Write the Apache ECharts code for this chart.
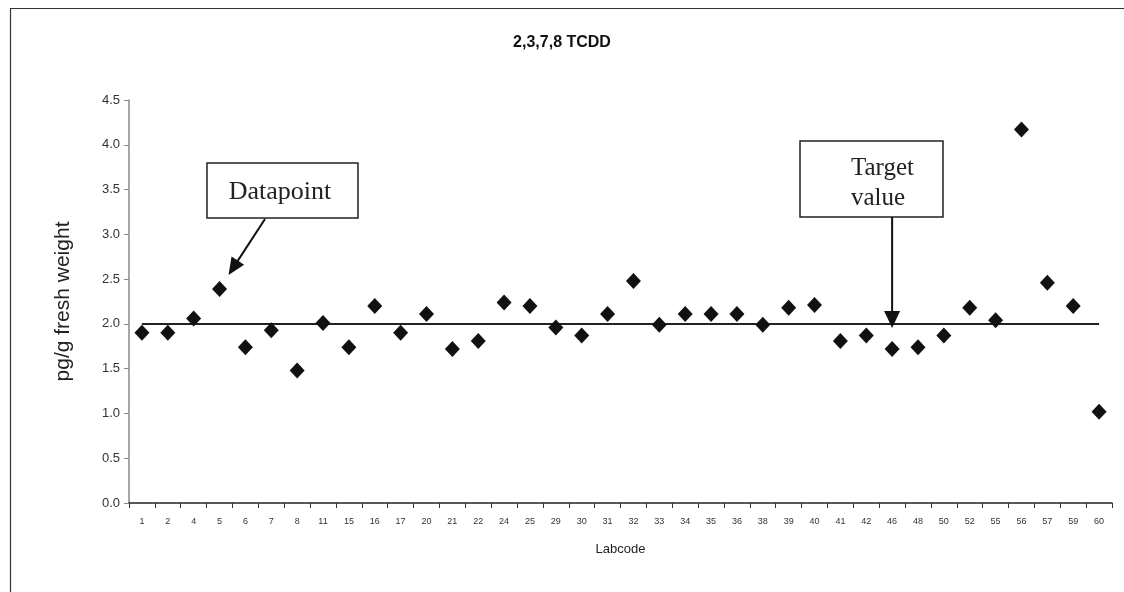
<!DOCTYPE html>
<html><head><meta charset="utf-8">
<script src="https://cdn.jsdelivr.net/npm/echarts@6/dist/echarts.min.js"></script>
<style>html,body{margin:0;padding:0;background:#fff}#c{width:1124px;height:592px}</style>
</head><body><div id="c"></div>
<script>
const labcodes = ['1','2','4','5','6','7','8','11','15','16','17','20','21','22','24','25','29','30','31','32','33','34','35','36','38','39','40','41','42','46','48','50','52','55','56','57','59','60'];
const values = [1.90,1.90,2.06,2.39,1.74,1.93,1.48,2.01,1.74,2.20,1.90,2.11,1.72,1.81,2.24,2.20,1.96,1.87,2.11,2.48,1.99,2.11,2.11,2.11,1.99,2.18,2.21,1.81,1.87,1.72,1.74,1.87,2.18,2.04,4.17,2.46,2.20,1.02];
const targetValue = 2.0;
const yTicks = [0,0.5,1,1.5,2,2.5,3,3.5,4,4.5];

const chart = echarts.init(document.getElementById('c'));
const option = {
  animation:false,
  backgroundColor:'#fff',
  title:{text:'2,3,7,8 TCDD',left:'center',top:30,textStyle:{fontFamily:'Liberation Sans, Arial',fontSize:16,fontWeight:'bold',color:'#111'}},
  grid:{left:129,right:12,top:100,bottom:89},
  xAxis:{type:'category',data:labcodes,boundaryGap:true,
    name:'Labcode',nameLocation:'middle',nameGap:40,nameTextStyle:{fontFamily:'Liberation Sans, Arial',fontSize:13,color:'#222'},
    axisLine:{lineStyle:{color:'#222',width:1.5}},
    axisTick:{show:true,length:5,lineStyle:{color:'#333'}},
    axisLabel:{interval:0,margin:14,fontFamily:'Liberation Sans, Arial',fontSize:9,color:'#333'}},
  yAxis:{type:'value',min:yTicks[0],max:yTicks[yTicks.length-1],interval:0.5,
    name:'pg/g fresh weight',nameLocation:'middle',nameGap:55,nameTextStyle:{fontFamily:'Liberation Sans, Arial',fontSize:21,color:'#222'},
    splitLine:{show:false},
    axisLine:{show:true,lineStyle:{color:'#888',width:1.5}},
    axisTick:{show:true,length:5,lineStyle:{color:'#888'}},
    axisLabel:{formatter:v=>v.toFixed(1),margin:9,fontFamily:'Liberation Sans, Arial',fontSize:13,color:'#333'}},
  series:[
    {type:'line',data:labcodes.map(()=>targetValue),symbol:'none',lineStyle:{color:'#222',width:2},z:1},
    {type:'scatter',data:values,symbol:'diamond',symbolSize:[15,16],itemStyle:{color:'#111',opacity:1},z:3}
  ]
};
chart.setOption(option);

const p5 = chart.convertToPixel({seriesIndex:1},[3,values[3]]);
const p46 = chart.convertToPixel({seriesIndex:0},[29,targetValue]);
const serif = 'Liberation Serif, Times New Roman, serif';
// datapoint arrow
const sx = 265, sy = 219;
const tx = p5[0]+9, ty = p5[1]-14;
const dx = tx-sx, dy = ty-sy, L = Math.hypot(dx,dy), ux = dx/L, uy = dy/L;
const hl = 17, hw = 7.5;
const bx = tx-ux*hl, by = ty-uy*hl;
chart.setOption({graphic:[
  {type:'rect',shape:{x:10.5,y:8.5,width:1125,height:600},style:{fill:'none',stroke:'#333',lineWidth:1.2},silent:true,z:0},
  {type:'rect',shape:{x:207,y:163,width:151,height:55},style:{fill:'#fff',stroke:'#222',lineWidth:1.5},z:10},
  {type:'text',x:280,y:192,style:{text:'Datapoint',font:'26px '+serif,fill:'#222',align:'center',verticalAlign:'middle'},z:11},
  {type:'line',shape:{x1:sx,y1:sy,x2:bx+ux*2,y2:by+uy*2},style:{stroke:'#111',lineWidth:2},z:10},
  {type:'polygon',shape:{points:[[tx,ty],[bx-uy*hw,by+ux*hw],[bx+uy*hw,by-ux*hw]]},style:{fill:'#111'},z:10},
  {type:'rect',shape:{x:800,y:141,width:143,height:76},style:{fill:'#fff',stroke:'#222',lineWidth:1.5},z:10},
  {type:'text',x:851,y:183,style:{text:'Target\nvalue',font:'25px '+serif,lineHeight:30,fill:'#222',align:'left',verticalAlign:'middle'},z:11},
  {type:'line',shape:{x1:p46[0],y1:217,x2:p46[0],y2:p46[1]-12},style:{stroke:'#111',lineWidth:2},z:10},
  {type:'polygon',shape:{points:[[p46[0]-8,p46[1]-13],[p46[0]+8,p46[1]-13],[p46[0],p46[1]+4]]},style:{fill:'#111'},z:10}
]});
</script></body></html>
